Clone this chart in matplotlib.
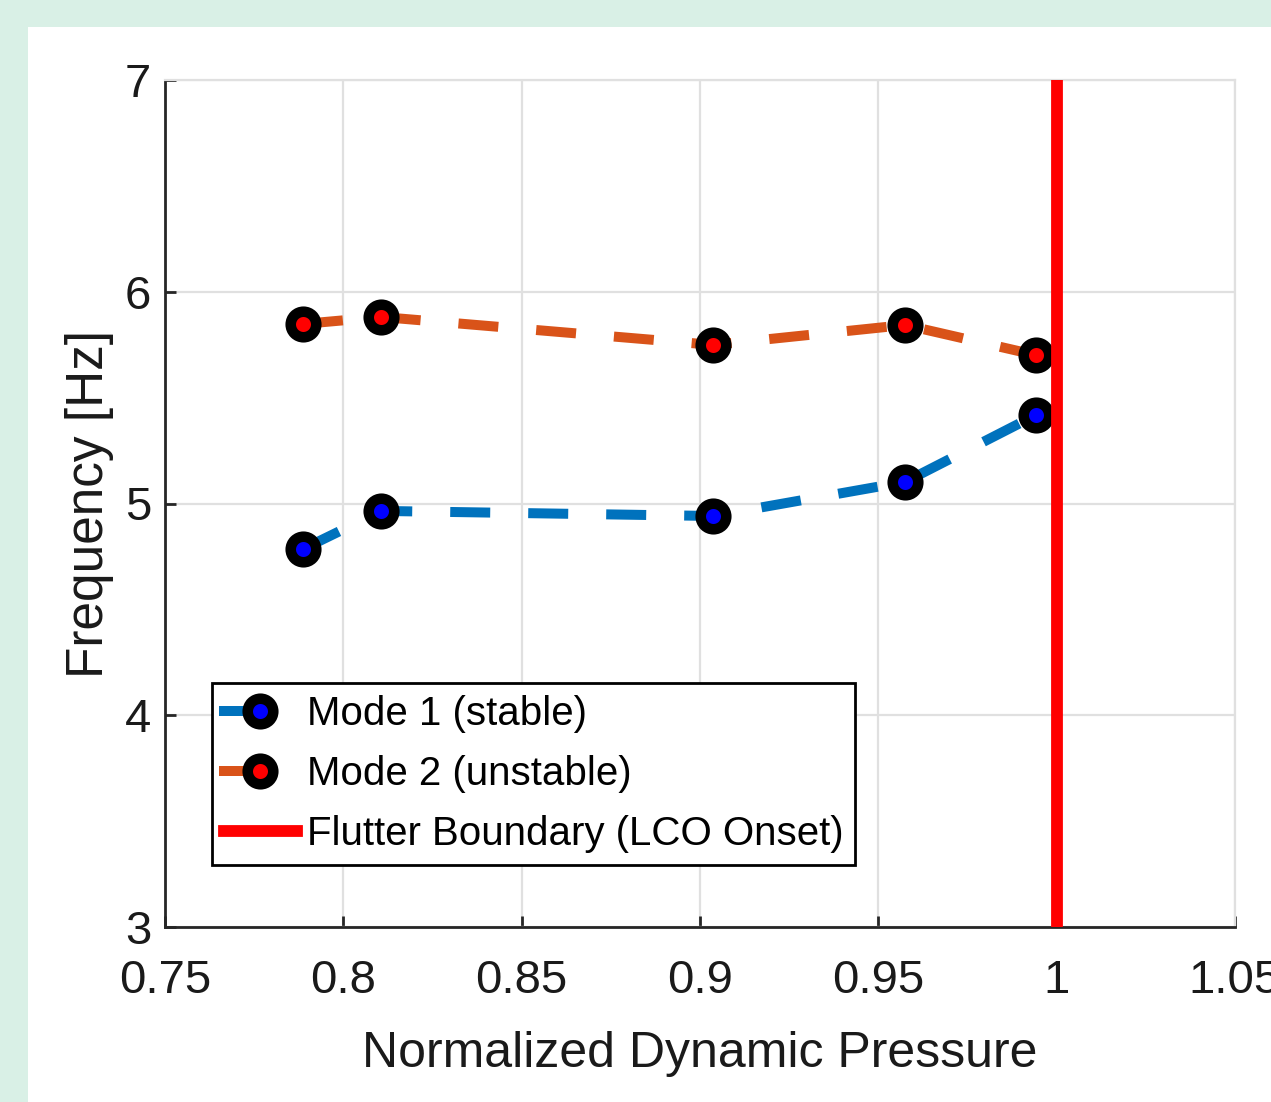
import matplotlib
matplotlib.use("Agg")
import matplotlib.pyplot as plt
from matplotlib.patches import Rectangle
from matplotlib.legend_handler import HandlerLine2D

plt.rcParams['font.family'] = ['Liberation Sans', 'DejaVu Sans']

# data
q_norm = [0.7887, 0.8106, 0.9036, 0.9575, 0.9942]
mode1_freq = [4.785, 4.965, 4.941, 5.102, 5.418]
mode2_freq = [5.848, 5.881, 5.749, 5.843, 5.701]
flutter_q = 1.0

x_ticks = [0.75, 0.8, 0.85, 0.9, 0.95, 1.0, 1.05]
x_tick_labels = ['0.75', '0.8', '0.85', '0.9', '0.95', '1', '1.05']
y_ticks = [3, 4, 5, 6, 7]


class HalfLineHandler(HandlerLine2D):
    """ legend handle like matlab's: line stub on the left, marker in the middle """
    def create_artists(self, legend, orig_handle, xdescent, ydescent, width, height,
                       fontsize, trans):
        arts = super().create_artists(legend, orig_handle, xdescent, ydescent, width,
                                      height, fontsize, trans)
        line = arts[0]
        xd = line.get_xdata()
        yd = line.get_ydata()
        line.set_data([xd[0], (xd[0] + xd[-1]) / 2], [yd[0], yd[0]])
        line.set_linestyle('-')
        return arts


fig = plt.figure(figsize=(12.71, 11.02), dpi=100, facecolor='#d9f0e6')
fig.patches.append(Rectangle((28 / 1271, 0), 1, 1 - 27 / 1102, transform=fig.transFigure,
                             facecolor='white', edgecolor='none', zorder=-10))
ax = fig.add_axes([165 / 1271, 1 - 927 / 1102, 1070 / 1271, 847 / 1102])
ax.set_zorder(5)
ax.set_facecolor('white')

txt_col = '#1a1a1a'
ms, mew = 18.4, 7.6
l1, = ax.plot(q_norm, mode1_freq, color='#0072BD', lw=7.2, dashes=(4, 3.8),
              marker='o', ms=ms, mfc='blue', mec='black', mew=mew, label='Mode 1 (stable)', zorder=3)
l2, = ax.plot(q_norm, mode2_freq, color='#D95319', lw=7.2, dashes=(4, 3.8),
              marker='o', ms=ms, mfc='red', mec='black', mew=mew, label='Mode 2 (unstable)', zorder=3)
ax.axvline(flutter_q, color='red', lw=8.5, label='Flutter Boundary (LCO Onset)', zorder=4)

ax.set_xlim(0.75, 1.05)
ax.set_ylim(3, 7)
ax.set_xticks(x_ticks)
ax.set_xticklabels(x_tick_labels)
ax.set_yticks(y_ticks)
ax.grid(True, color='#e0e0e0', lw=1.6)
ax.set_axisbelow(True)
for s in ['top', 'right']:
    ax.spines[s].set_color('#e0e0e0')
    ax.spines[s].set_linewidth(1.6)
for s in ['left', 'bottom']:
    ax.spines[s].set_color('#262626')
    ax.spines[s].set_linewidth(2)
ax.tick_params(direction='in', length=8, width=2, color='#262626', labelsize=34,
               labelcolor=txt_col)
ax.tick_params(axis='x', pad=23)
ax.tick_params(axis='y', pad=10)
ax.set_xlabel('Normalized Dynamic Pressure', size=36, color=txt_col, labelpad=20)
ax.set_ylabel('Frequency [Hz]', size=37, color=txt_col, labelpad=8)

leg = ax.legend(loc='lower left', bbox_to_anchor=(47 / 1070, 62 / 847), fontsize=29,
                handlelength=1.8, handletextpad=0.25, borderpad=0.3, labelspacing=0.55,
                borderaxespad=0, fancybox=False, framealpha=1,
                handler_map={l1: HalfLineHandler(), l2: HalfLineHandler()})
leg.get_frame().set_edgecolor('black')
leg.get_frame().set_linewidth(2)

fig.savefig('out.png', dpi=100, facecolor=fig.get_facecolor())
